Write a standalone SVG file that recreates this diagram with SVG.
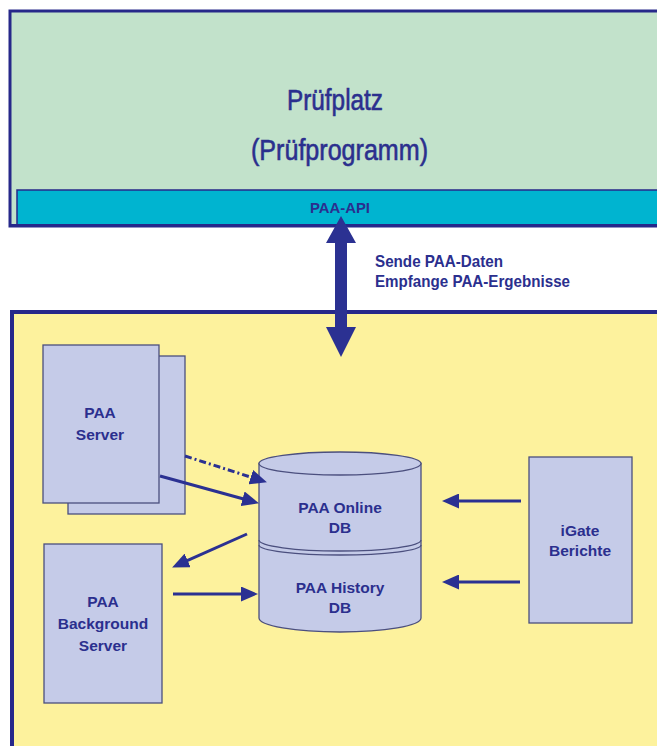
<svg xmlns="http://www.w3.org/2000/svg" width="657" height="746" viewBox="0 0 657 746">
<style>
.lbl{font-family:"Liberation Sans",Arial,sans-serif;font-weight:bold;font-size:15.5px;fill:#2b2f8e;text-anchor:middle}
.big{font-family:"Liberation Sans",Arial,sans-serif;font-size:29px;fill:#2b2f8e;stroke:#2b2f8e;stroke-width:0.6;text-anchor:middle}
.node{fill:#c5cbe8;stroke:#4b4f7e;stroke-width:1.3}
.conn{stroke:#2b3192;stroke-width:3;fill:none}
</style>
<defs>
<marker id="ah" markerUnits="userSpaceOnUse" markerWidth="17" markerHeight="15" refX="3" refY="7.5" orient="auto">
<path d="M0,0 L17,7.5 L0,15 z" fill="#2b3192"/>
</marker>
</defs>
<rect width="657" height="746" fill="#ffffff"/>
<g id="pruefplatz">
<rect x="10" y="11" width="700" height="215" fill="#c2e2cb" stroke="#26288a" stroke-width="3"/>
<text x="335" y="110" class="big" textLength="96" lengthAdjust="spacingAndGlyphs">Prüfplatz</text>
<text x="339.5" y="160" class="big" textLength="177" lengthAdjust="spacingAndGlyphs">(Prüfprogramm)</text>
</g>
<g id="paa-api">
<rect x="17" y="190" width="700" height="35" fill="#00b4d0" stroke="#26288a" stroke-width="1.5"/>
<line x1="10" y1="225.5" x2="657" y2="225.5" stroke="#26288a" stroke-width="3"/>
<text x="340" y="213" class="lbl" textLength="60" lengthAdjust="spacingAndGlyphs">PAA-API</text>
</g>
<g id="system">
<rect x="12" y="312" width="700" height="500" fill="#fdf29d" stroke="#26288a" stroke-width="4"/>
</g>
<g id="paa-server">
<rect x="68" y="356" width="117" height="158" class="node"/>
<rect x="43" y="345" width="116" height="158" class="node"/>
<text x="100" y="418" class="lbl">PAA</text>
<text x="100" y="440" class="lbl">Server</text>
</g>
<g id="paa-background-server">
<rect x="44" y="544" width="118" height="159" class="node"/>
<text x="103" y="607" class="lbl">PAA</text>
<text x="103" y="629" class="lbl">Background</text>
<text x="103" y="651" class="lbl">Server</text>
</g>
<g id="paa-db">
<path d="M259,463.5 L259,618 A81,14 0 0 0 421,618 L421,463.5 Z" class="node"/>
<ellipse cx="340" cy="463.5" rx="81" ry="11.5" class="node"/>
<path d="M259,540 A81,11 0 0 0 421,540" fill="none" stroke="#4b4f7e" stroke-width="1.3"/>
<path d="M259,545 A81,10 0 0 0 421,545" fill="none" stroke="#4b4f7e" stroke-width="1.3"/>
<text x="340" y="513" class="lbl">PAA Online</text>
<text x="340" y="533" class="lbl">DB</text>
<text x="340" y="593" class="lbl">PAA History</text>
<text x="340" y="613" class="lbl">DB</text>
</g>
<g id="igate-berichte">
<rect x="529" y="457" width="103" height="166" class="node"/>
<text x="580" y="536" class="lbl">iGate</text>
<text x="580" y="556" class="lbl">Berichte</text>
</g>
<g id="connectors">
<polygon points="341,216 356,243 347,243 347,327 356,327 341,357 326,327 335,327 335,243 326,243" fill="#2b3192"/>
<text x="375" y="267" style="font-family:'Liberation Sans',Arial,sans-serif;font-weight:bold;font-size:17px;fill:#2b2f8e" textLength="128" lengthAdjust="spacingAndGlyphs">Sende PAA-Daten</text>
<text x="375" y="287" style="font-family:'Liberation Sans',Arial,sans-serif;font-weight:bold;font-size:17px;fill:#2b2f8e" textLength="195" lengthAdjust="spacingAndGlyphs">Empfange PAA-Ergebnisse</text>
<line x1="185" y1="456" x2="253.6" y2="478" class="conn" stroke-dasharray="7 3 2 3" marker-end="url(#ah)"/>
<line x1="160" y1="476" x2="245.5" y2="499.5" class="conn" marker-end="url(#ah)"/>
<line x1="247" y1="534" x2="184.9" y2="561.7" class="conn" marker-end="url(#ah)"/>
<line x1="173" y1="594" x2="244" y2="594" class="conn" marker-end="url(#ah)"/>
<line x1="521" y1="501" x2="456" y2="501" class="conn" marker-end="url(#ah)"/>
<line x1="520" y1="582" x2="456" y2="582" class="conn" marker-end="url(#ah)"/>
</g>
</svg>
